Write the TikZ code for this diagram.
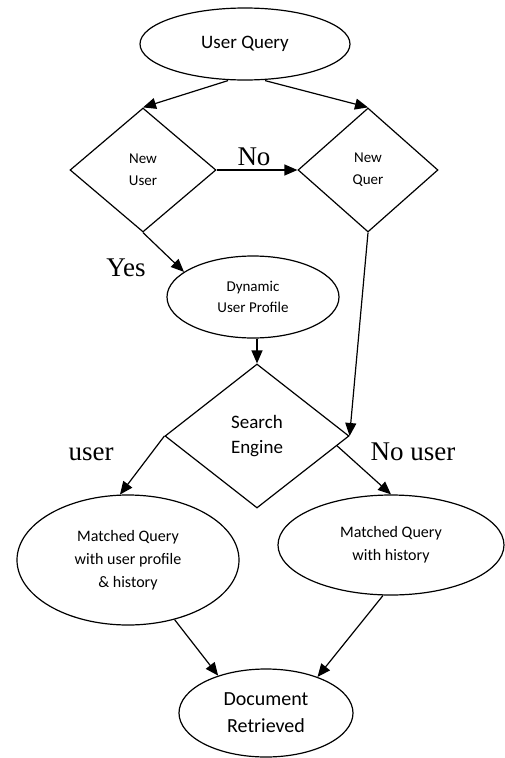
\documentclass[tikz,border=0pt]{standalone}
\usepackage{fontspec}
\setmainfont{Carlito}
\newfontfamily\labelfont{Liberation Serif}
\usetikzlibrary{shapes.geometric,arrows.meta}

\tikzset{
  box/.style={draw, line width=1.2pt, inner sep=0pt, align=center},
  oval/.style={box, ellipse},
  decision/.style={box, diamond},
  flow/.style={line width=1.2pt, -{Triangle[length=13pt,width=11pt]}},
  edgelabel/.style={font=\labelfont\fontsize{27}{30}\selectfont, anchor=base, inner sep=0pt}
}

\begin{document}
\begin{tikzpicture}[x=1pt, y=-1pt]
  \useasboundingbox (0,0) rectangle (505,758);

  % process nodes
  \node[oval, minimum width=210pt, minimum height=72pt,
        font=\fontsize{19}{23}\selectfont] (uq) at (245,44) {User Query};
  \node[decision, minimum width=146pt, minimum height=124pt,
        font=\fontsize{15}{22}\selectfont] (nu) at (143,170) {New\\User};
  \node[decision, minimum width=140pt, minimum height=124pt,
        font=\fontsize{15}{22}\selectfont] (nq) at (368,170) {New\\Quer};
  \node[oval, minimum width=172pt, minimum height=82pt,
        font=\fontsize{15}{21}\selectfont] (dup) at (253,297) {Dynamic\\User Profile};
  \node[decision, minimum width=184pt, minimum height=144pt,
        font=\fontsize{19}{25}\selectfont] (se) at (257,436) {Search\\Engine};
  \node[oval, minimum width=222pt, minimum height=130pt,
        font=\fontsize{16}{23}\selectfont] (mup) at (128,560)
        {Matched Query\\with user profile\\\& history};
  \node[oval, minimum width=226pt, minimum height=100pt,
        font=\fontsize{16}{23}\selectfont] (mh) at (391,545)
        {Matched Query\\with history};
  \node[oval, minimum width=174pt, minimum height=88pt,
        font=\fontsize{20}{27}\selectfont] (dr) at (266,713)
        {Document\\Retrieved};

  % connectors
  \draw[flow] ([xshift=-17pt]uq.south) -- (nu.north);
  \draw[flow] ([xshift=20pt]uq.south) -- (nq.north);
  \draw[flow] (nu.east) -- (nq.west);
  \draw[flow] (nu.south) -- (dup.160);
  \draw[flow] (se.north |- dup.south) -- (se.north);
  \draw[flow] (nq.south) -- (se.east);
  \draw[flow] (se.west) -- (mup.97);
  \draw[flow] (se.-7) -- (mh.north);
  \draw[flow] (mup.-52) -- (dr.142);
  \draw[flow] (mh.261) -- (dr.35);

  % edge labels
  \node[edgelabel] (lno) at (254,165) {No};
  \node[edgelabel] (lyes) at (126,276) {Yes};
  \node[edgelabel] (luser) at (91,460) {user};
  \node[edgelabel] (lnouser) at (413,460) {No user};
\end{tikzpicture}
\end{document}
